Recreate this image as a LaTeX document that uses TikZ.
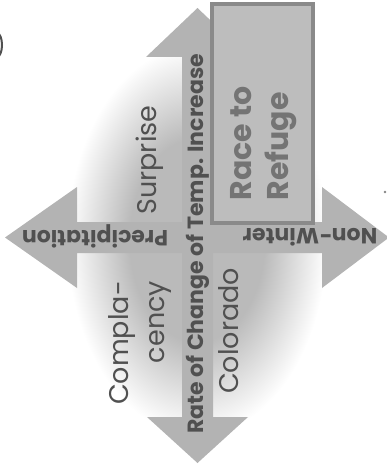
\documentclass[tikz,border=0pt]{standalone}
\usepackage{fontspec}
\setmainfont{Poppins}
\definecolor{axisgray}{HTML}{B3B3B3}
\definecolor{glowgray}{HTML}{BABABA}
\definecolor{boxgray}{HTML}{BDBDBD}
\definecolor{rimgray}{HTML}{8A8A8A}
\definecolor{inkgray}{HTML}{505050}
\definecolor{refgray}{HTML}{747474}
\pgfdeclareradialshading{glow}{\pgfpoint{0bp}{0bp}}{color(0bp)=(glowgray); color(13bp)=(glowgray); color(25bp)=(white); color(50bp)=(white)}

\begin{document}
\begin{tikzpicture}[x=1pt,y=-1pt,
 axis/.style={fill=axisgray,draw=none},
 axlabel/.style={font=\bfseries\fontsize{22}{22}\selectfont,text=inkgray,inner sep=0pt},
 quad/.style={font=\fontsize{27}{36}\selectfont,text=inkgray,rotate=90,inner sep=0pt}]
\useasboundingbox (0,0) rectangle (387,468);
% soft background
\shade[shading=glow] (197,240) ellipse [x radius=130, y radius=195];
% vertical axis
\fill[axis] (197.5,8) -- (249,57) -- (213,57) -- (213,417) -- (248,417) -- (197.5,463)
 -- (147,417) -- (182,417) -- (182,57) -- (146,57) -- cycle;
% horizontal axis
\fill[axis] (5,237.5) -- (77,187) -- (77,222) -- (322,222) -- (322,187) -- (389,237.5)
 -- (322,288) -- (322,253) -- (77,253) -- (77,288) -- cycle;
% upper right quadrant
\node[draw=rimgray,line width=3.5pt,fill=boxgray,minimum width=101pt,minimum height=219pt,
 inner sep=0pt] (refbox) at (262.5,113.5) {};
\node[rotate=90,align=left,text=refgray,inner sep=0pt,
 font=\bfseries\fontsize{30}{37}\selectfont] (refuge) at (264,143) {Race to\\Refuge};
% quadrant labels
\node[quad] (surprise) at (150,160) {Surprise};
\node[quad,align=right] (compl) at (140,343) {Compla-\\cency};
\node[quad] (colorado) at (229,331) {Colorado};
% axis labels
\node[axlabel,rotate=90] (rate) at (198,244) {Rate of Change of Temp. Increase};
\node[axlabel,rotate=180] (precip) at (95,236) {Precipitation};
\node[axlabel,rotate=180] (nonwinter) at (310,237) {Non-Winter};
% cut-off marks at the edges
\draw[inkgray,line width=2pt] (-3,33) arc[start angle=90,end angle=-90,x radius=5,y radius=-12];
\fill[inkgray!70] (385,192) circle (1.3);
\end{tikzpicture}
\end{document}
